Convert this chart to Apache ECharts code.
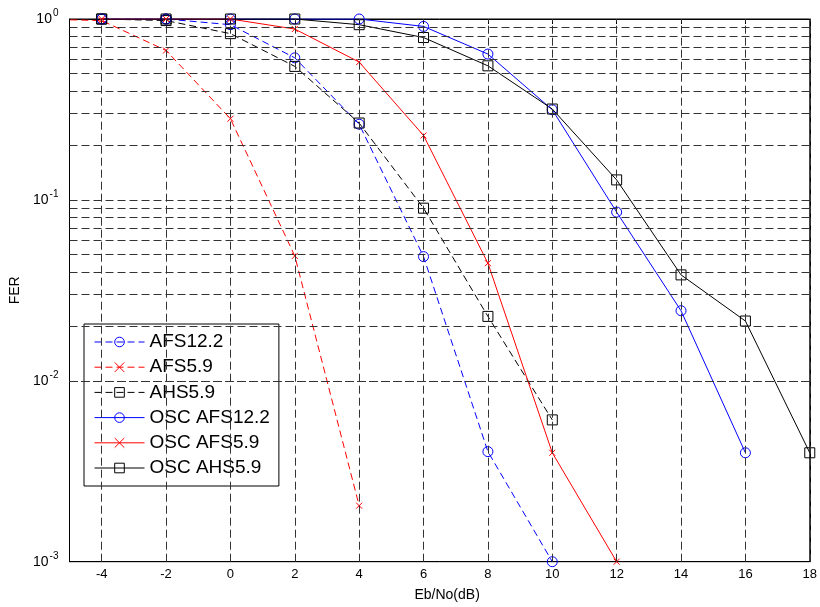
<!DOCTYPE html>
<html>
<head>
<meta charset="utf-8">
<script src="https://cdn.jsdelivr.net/npm/echarts@6/dist/echarts.min.js"></script>
<style>html,body{margin:0;padding:0;background:#fff}#c{width:820px;height:607px}</style>
</head>
<body>
<div id="c"></div>
<script>
// ---- data ----
const xTicks = [-4, -2, 0, 2, 4, 6, 8, 10, 12, 14, 16, 18];
const yDecades = [0.001, 0.01, 0.1];
const yMinorSteps = [2, 3, 4, 5, 6, 7, 8, 9];

const xAFS122 = [-4, -2, 0, 2, 4, 6, 8, 10];
const yAFS122 = [1, 1, 0.93, 0.61, 0.262, 0.0486, 0.00406, 0.001];

const xAFS59 = [-6, -4, -2, 0, 2, 4];
const yAFS59 = [1, 0.98, 0.67, 0.281, 0.049, 0.00204];

const xAHS59 = [-4, -2, 0, 2, 4, 6, 8, 10];
const yAHS59 = [1, 0.98, 0.83, 0.547, 0.266, 0.090, 0.0227, 0.00608];

const xOscAFS122 = [-4, -2, 0, 2, 4, 6, 8, 10, 12, 14, 16];
const yOscAFS122 = [1, 1, 1, 1, 1, 0.91, 0.64, 0.315, 0.0856, 0.0244, 0.004];

const xOscAFS59 = [-4, -2, 0, 2, 4, 6, 8, 10, 12];
const yOscAFS59 = [1, 1, 1, 0.88, 0.578, 0.227, 0.0447, 0.004, 0.001];

const xOscAHS59 = [-4, -2, 0, 2, 4, 6, 8, 10, 12, 14, 16, 18];
const yOscAHS59 = [1, 1, 1, 1, 0.93, 0.79, 0.551, 0.318, 0.129, 0.0385, 0.0214, 0.004];

const names = ['AFS12.2', 'AFS5.9', 'AHS5.9', 'OSC AFS12.2', 'OSC AFS5.9', 'OSC AHS5.9'];

// ---- build ----
const zip = (xs, ys) => xs.map((x, i) => [x, ys[i]]);
const FONT = '"Liberation Sans", Arial, sans-serif';
const crossPath = 'path://M0,0L10,10M10,0L0,10';
const dash = [7, 4];

function mk(name, xs, ys, color, symbol, dashed) {
  return {
    name: name, type: 'line', data: zip(xs, ys), z: 3,
    symbol: symbol, symbolSize: symbol === crossPath ? 6 : 10,
    showSymbol: true, clip: true, animation: false,
    lineStyle: { color: color, width: 1, type: dashed ? dash : 'solid' },
    itemStyle: { color: 'rgba(0,0,0,0)', borderColor: color, borderWidth: 1 },
    emphasis: { disabled: true }
  };
}

const gridLines = [];
xTicks.forEach(v => gridLines.push({ xAxis: v }));
yDecades.forEach(d => {
  gridLines.push({ yAxis: d });
  yMinorSteps.forEach(m => gridLines.push({ yAxis: +(d * m).toPrecision(3) }));
});

const chart = echarts.init(document.getElementById('c'), null, { renderer: 'canvas' });
chart.setOption({
  backgroundColor: '#fff',
  animation: false,
  grid: { left: 69.5, top: 19, right: 8.5, bottom: 45.3, show: true, borderColor: '#000', borderWidth: 1, backgroundColor: '#fff' },
  xAxis: [{
    type: 'value', min: -5, max: 18, position: 'bottom',
    axisLine: { show: true, onZero: false, lineStyle: { color: '#000' } },
    axisTick: { show: true, inside: true, length: 5, customValues: xTicks, lineStyle: { color: '#000' } },
    axisLabel: { customValues: xTicks, color: '#000', fontSize: 13, fontFamily: FONT, margin: 6 },
    splitLine: { show: false },
    name: 'Eb/No(dB)', nameLocation: 'middle', nameGap: 26,
    nameTextStyle: { color: '#000', fontSize: 14, fontFamily: FONT, padding: [0, 0, 0, 15] }
  }, {
    type: 'value', min: -5, max: 18, position: 'top',
    axisLine: { show: true, onZero: false, lineStyle: { color: '#000' } },
    axisTick: { show: true, inside: true, length: 5, customValues: xTicks, lineStyle: { color: '#000' } },
    axisLabel: { show: false }, splitLine: { show: false }
  }],
  yAxis: [{
    type: 'log', logBase: 10, min: 0.001, max: 1, position: 'left',
    axisLine: { show: true, onZero: false, lineStyle: { color: '#000' } },
    axisTick: { show: true, inside: true, length: 5, lineStyle: { color: '#000' } },
    axisLabel: {
      color: '#000', margin: 11,
      formatter: v => '{b|10}{e|' + Math.round(Math.log10(v)) + '}',
      rich: {
        b: { fontSize: 14, fontFamily: FONT, color: '#000' },
        e: { fontSize: 10, fontFamily: FONT, color: '#000', padding: [0, 0, 11, 1] }
      }
    },
    splitLine: { show: false },
    name: 'FER', nameLocation: 'middle', nameGap: 43,
    nameTextStyle: { color: '#000', fontSize: 14, fontFamily: FONT }
  }, {
    type: 'log', logBase: 10, min: 0.001, max: 1, position: 'right',
    axisLine: { show: true, onZero: false, lineStyle: { color: '#000' } },
    axisTick: { show: true, inside: true, length: 5, lineStyle: { color: '#000' } },
    axisLabel: { show: false }, splitLine: { show: false }
  }],
  legend: {
    data: names, orient: 'vertical', left: 84, top: 324,
    backgroundColor: '#fff', borderColor: '#000', borderWidth: 1, borderRadius: 0,
    padding: [8, 9, 8, 10], itemWidth: 50, itemHeight: 12, itemGap: 5.2,
    lineStyle: { width: 1 },
    itemStyle: { borderWidth: 1 },
    textStyle: { color: '#000', fontSize: 19, fontFamily: FONT, lineHeight: 20 },
    selectedMode: false
  },
  series: [
    {
      name: 'grid', type: 'line', data: [[-10, 1]], z: 1, symbol: 'none', silent: true,
      lineStyle: { opacity: 0 },
      markLine: {
        silent: true, symbol: ['none', 'none'], animation: false,
        label: { show: false },
        lineStyle: { color: '#333', width: 1, type: [8, 4] },
        emphasis: { disabled: true },
        data: gridLines
      }
    },
    mk(names[0], xAFS122, yAFS122, '#0000ff', 'circle', true),
    mk(names[1], xAFS59, yAFS59, '#ff0000', crossPath, true),
    mk(names[2], xAHS59, yAHS59, '#000000', 'rect', true),
    mk(names[3], xOscAFS122, yOscAFS122, '#0000ff', 'circle', false),
    mk(names[4], xOscAFS59, yOscAFS59, '#ff0000', crossPath, false),
    mk(names[5], xOscAHS59, yOscAHS59, '#000000', 'rect', false)
  ]
});
</script>
</body>
</html>
